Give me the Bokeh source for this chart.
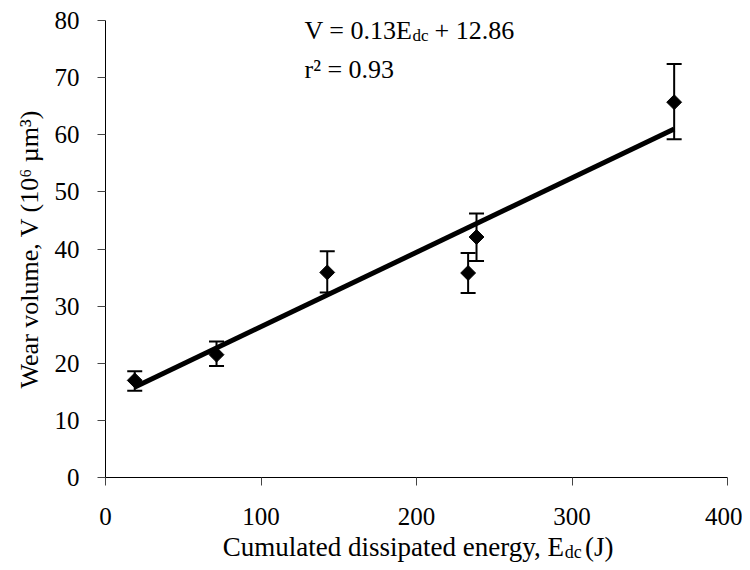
import numpy as np
from bokeh.plotting import figure
from bokeh.layouts import column
from bokeh.models import (ColumnDataSource, Whisker, TeeHead, Label, FixedTicker,
                          Range1d)
from bokeh.embed import file_html
from bokeh.resources import INLINE

# ---- data ----
energy = [18.8, 71.4, 142.6, 233.2, 238.6, 365.7]          # E_dc (J)
volume = [17.0, 21.5, 35.9, 35.8, 42.1, 65.7]              # V (10^6 um^3)
err_upper = [18.6, 23.8, 39.6, 39.3, 46.2, 72.4]
err_lower = [15.2, 19.5, 32.4, 32.3, 37.9, 59.2]
trend_x = [18.6, 365.7]
trend_y = [15.8, 61.0]
x_ticks = [0, 100, 200, 300, 400]
y_ticks = [0, 10, 20, 30, 40, 50, 60, 70, 80]
eq_main = "V = 0.13E"
eq_sub = "dc"
eq_tail = "+ 12.86"
r2_text = "r\u00b2 = 0.93"
xlab_main = "Cumulated dissipated energy, E"
xlab_sub = "dc"
xlab_tail = "(J)"
ylab = "Wear volume, V (10\u2076 \u00b5m\u00b3)"

FONT = "Liberation Serif"
W = 742
H1 = 530       # main plot canvas
H2 = 32        # strip holding the x-axis title
BASE_FIX = 9   # Bokeh draws 'alphabetic' labels ~9px lower than asked

src = ColumnDataSource(dict(x=energy, y=volume, upper=err_upper, lower=err_lower))

p = figure(width=W, height=H1, output_backend="svg", toolbar_location=None,
           x_range=Range1d(0, 400), y_range=Range1d(0, 80),
           min_border_left=105, min_border_right=W - 727, min_border_top=20,
           min_border_bottom=H1 - 477)
p.outline_line_color = None
p.xgrid.visible = False
p.ygrid.visible = False
p.background_fill_color = "white"
p.border_fill_color = "white"

for ax in (p.xaxis[0], p.yaxis[0]):
    ax.axis_line_color = "black"
    ax.axis_line_width = 1
    ax.major_tick_in = 0
    ax.major_tick_out = 8
    ax.major_tick_line_color = "#444444"
    ax.minor_tick_line_color = None
    ax.major_label_text_font = FONT
    ax.major_label_text_font_size = "25px"
    ax.major_label_text_color = "black"

p.xaxis.ticker = FixedTicker(ticks=x_ticks)
p.yaxis.ticker = FixedTicker(ticks=y_ticks)
p.xaxis.major_label_standoff = 22
p.yaxis.major_label_standoff = 18

p.yaxis.axis_label = ylab
p.yaxis.axis_label_text_font = FONT
p.yaxis.axis_label_text_font_size = "26px"
p.yaxis.axis_label_text_font_style = "normal"
p.yaxis.axis_label_text_color = "black"
p.yaxis.axis_label_standoff = 8

# error bars
wh = Whisker(source=src, base="x", upper="upper", lower="lower",
             line_color="black", line_width=2,
             upper_head=TeeHead(size=15, line_width=2, line_color="black"),
             lower_head=TeeHead(size=15, line_width=2, line_color="black"),
             level="glyph")
p.add_layout(wh)

# markers (diamonds)
p.scatter("x", "y", source=src, marker="square", angle=np.pi / 4, size=10.5,
          fill_color="black", line_color="black")

# trend line
p.line(trend_x, trend_y, line_color="black", line_width=5)

# picture px -> data helpers for annotation placement
def dx(px):
    return (px - 105) / 1.555

def dy(py):
    return (477 - (py - BASE_FIX)) / 5.7125

def lab(fig, text, x, y, size, align="left"):
    fig.add_layout(Label(x=x, y=y, text=text, text_font=FONT, text_font_size=size,
                         text_color="black", text_align=align,
                         text_baseline="alphabetic"))

# regression equation
lab(p, eq_main, dx(304), dy(39), "26px")
lab(p, eq_sub, dx(412), dy(44), "17px")
lab(p, eq_tail, dx(434), dy(39), "26px")
lab(p, r2_text, dx(304), dy(78), "26px")

# x axis title strip (pixel coordinates)
p2 = figure(width=W, height=H2, output_backend="svg", toolbar_location=None,
            x_range=Range1d(0, W), y_range=Range1d(0, H2),
            x_axis_location=None, y_axis_location=None, min_border=0)
p2.outline_line_color = None
p2.xgrid.visible = False
p2.ygrid.visible = False
p2.background_fill_color = "white"
p2.border_fill_color = "white"

def sy(py):
    return H2 - (py - BASE_FIX - H1)

lab(p2, xlab_main, 547, sy(555), "27px", align="right")
lab(p2, xlab_sub, 548, sy(560), "18px")
lab(p2, xlab_tail, 572, sy(555), "27px")

layout = column(p, p2, spacing=0)
open("out.html", "w").write(file_html(layout, INLINE))
